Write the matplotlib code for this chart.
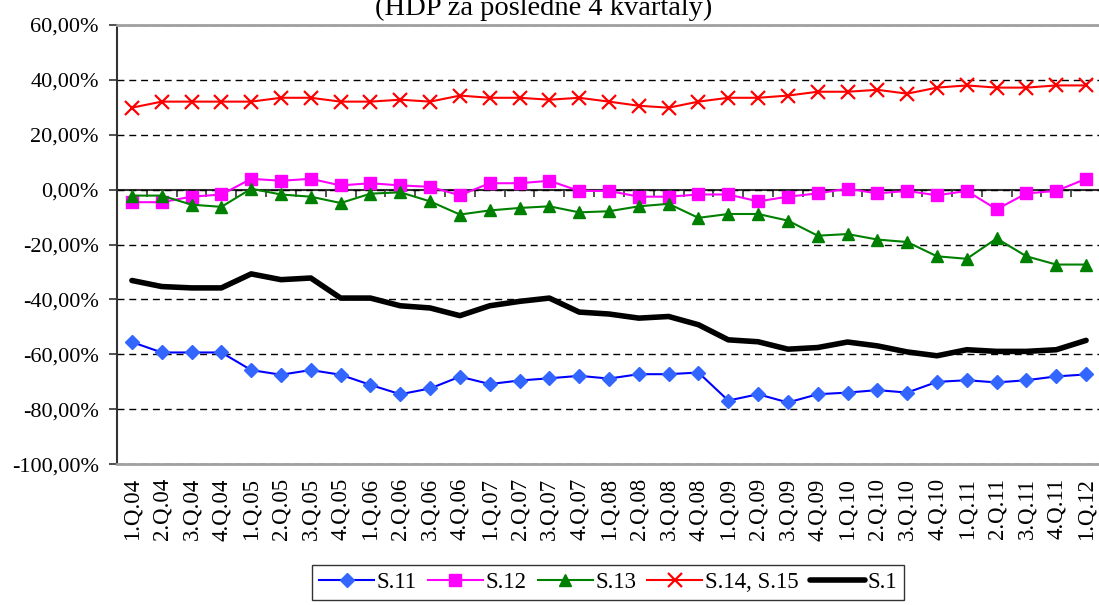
import numpy as np
import matplotlib
matplotlib.use("Agg")
import matplotlib.pyplot as plt
from matplotlib.ticker import FuncFormatter

plt.rcParams['font.family'] = ['Liberation Serif', 'DejaVu Serif']

# quarters 1.Q.04 ... 1.Q.12
quarters = [f"{q}.Q.{y:02d}" for y in range(4, 12) for q in range(1, 5)] + ["1.Q.12"]

# balances in % of GDP (last 4 quarters)
s11 = [-55.5, -59.3, -59.3, -59.3, -65.7, -67.4, -65.7, -67.4, -71.1, -74.5, -72.4,
       -68.1, -70.8, -69.5, -68.7, -67.8, -68.8, -67.2, -67.2, -66.6, -76.8, -74.5,
       -77.5, -74.5, -73.9, -73.0, -73.9, -70.0, -69.4, -70.2, -69.4, -68.0, -67.3]
s12 = [-4.6, -4.6, -2.6, -1.8, 3.9, 3.2, 3.9, 1.5, 2.3, 1.5, 1.0, -2.1, 2.3, 2.3,
       3.2, -0.5, -0.5, -2.6, -2.6, -1.8, -1.8, -4.3, -2.6, -1.4, 0.3, -1.4, -0.5,
       -2.1, -0.5, -7.2, -1.4, -0.5, 3.9]
s13 = [-2.2, -2.2, -5.5, -6.3, 0.3, -1.8, -2.6, -4.9, -1.5, -1.0, -4.3, -9.1, -7.6,
       -6.7, -6.1, -8.3, -7.9, -6.1, -5.2, -10.3, -8.9, -8.9, -11.3, -16.8, -16.2,
       -18.2, -19.1, -24.3, -25.2, -17.8, -24.3, -27.3, -27.3]
s14_15 = [29.8, 32.0, 32.0, 32.0, 32.0, 33.4, 33.4, 32.0, 32.0, 32.7, 32.0, 34.2,
          33.4, 33.4, 32.7, 33.4, 32.0, 30.5, 29.8, 32.0, 33.4, 33.4, 34.2, 35.6,
          35.6, 36.3, 34.9, 37.1, 37.9, 37.1, 37.1, 37.9, 37.9]
s1 = [-33.1, -35.3, -35.8, -35.8, -30.7, -32.8, -32.2, -39.5, -39.5, -42.3, -43.1,
      -45.9, -42.3, -40.7, -39.5, -44.6, -45.3, -46.8, -46.2, -49.2, -54.7, -55.4,
      -58.1, -57.5, -55.5, -56.9, -59.1, -60.5, -58.3, -58.9, -58.9, -58.3, -54.9]

W, H = 1099, 605
fig = plt.figure(figsize=(W / 100, H / 100), dpi=100)
ax = fig.add_axes([117 / W, 1 - 464.3 / H, 984 / W, (464.3 - 24.7) / H])

x = np.arange(len(quarters))

ax.plot(x, s11, color='#0000FF', lw=1.5, marker='D', ms=7.5,
        mfc='#3366FF', mec='#3366FF', label='S.11')
ax.plot(x, s12, color='#FF00FF', lw=1.5, marker='s', ms=8,
        mfc='#FF00FF', mec='#FF00FF', label='S.12')
ax.plot(x, s13, color='#008000', lw=1.5, marker='^', ms=9,
        mfc='#008000', mec='#008000', label='S.13')
ax.plot(x, s14_15, color='#FF0000', lw=1.5, marker='x', ms=10, mew=1.6,
        label='S.14, S.15')
ax.plot(x, s1, color='black', lw=4, solid_joinstyle='round',
        solid_capstyle='round', label='S.1')

ax.set_xlim(-0.5, len(quarters) - 0.5)
ax.set_ylim(-100, 60)
ax.set_yticks(np.arange(-100, 61, 20))
ax.yaxis.set_major_formatter(FuncFormatter(lambda v, p: f"{v:.2f}".replace('.', ',') + '%'))
ax.tick_params(axis='y', length=6, width=1.2, color='#333333', pad=7, labelsize=16)

ax.set_xticks(x)
ax.set_xticklabels(quarters, rotation=90)
ax.tick_params(axis='x', length=0, pad=10, labelsize=16.5)

ax.yaxis.grid(True, color='black', lw=1, linestyle=(0, (5, 3.5)))
ax.set_axisbelow(True)

for side in ('top', 'bottom'):
    ax.spines[side].set_color('#A0A0A0')
    ax.spines[side].set_linewidth(2)
ax.spines['left'].set_color('#333333')
ax.spines['left'].set_linewidth(1.5)
ax.spines['right'].set_visible(False)

# category axis crossing at 0 with ticks between quarters
zero_ax = ax.secondary_xaxis(100 / 160)
zero_ax.set_xticks(np.arange(-0.5, len(quarters), 1))
zero_ax.tick_params(axis='x', direction='in', length=5, width=1.2,
                    color='#333333', labeltop=False, labelbottom=False)
zero_ax.spines['top'].set_color('#333333')
zero_ax.spines['top'].set_linewidth(1.5)

fig.text(544 / W, 1 - 8 / H, "(HDP za posledné 4 kvartály)", ha='center',
         va='center', fontsize=20.5)

handles, labels = ax.get_legend_handles_labels()
leg = fig.legend(handles, labels, loc='upper center', ncol=5,
                 bbox_to_anchor=(608 / W, 1 - 565 / H), fontsize=16.5,
                 frameon=True, fancybox=False, edgecolor='#333333',
                 framealpha=1, borderpad=0.3, handlelength=2.4,
                 handletextpad=0.1, columnspacing=0.5, borderaxespad=0)
leg.get_frame().set_linewidth(1)

fig.savefig('out.png', dpi=100)
